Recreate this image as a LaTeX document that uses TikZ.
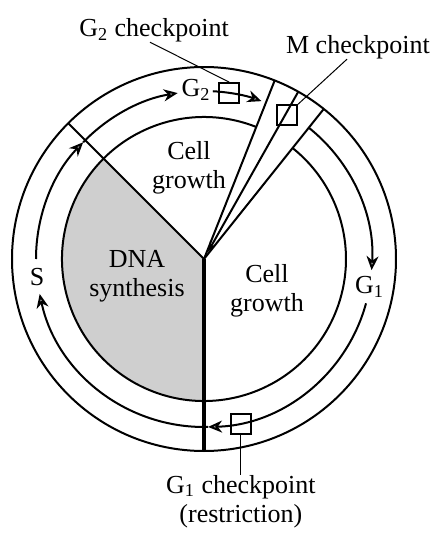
\documentclass[tikz,border=0pt]{standalone}
\usepackage{fontspec}
\setmainfont{Liberation Serif}
\usetikzlibrary{arrows.meta}
\usetikzlibrary{positioning}

\begin{document}
\begin{tikzpicture}[x=0.5pt,y=0.5pt,
  lbl/.style={font=\fontsize{13}{14.5}\selectfont,text=black,align=center,inner sep=0pt},
  chkbox/.style={rectangle,draw=black,line width=0.8pt,minimum size=10pt,inner sep=0pt},
  tip/.style={-{Stealth[length=7pt,width=6pt,inset=2.2pt,fill=gray!60]}},
  ringline/.style={black,line width=1pt},
  pointer/.style={black,line width=0.5pt}]
\useasboundingbox (-204,-278) rectangle (234,259);

% DNA synthesis sector
\fill[gray!38] (0,0) -- (135:142) arc[start angle=135,end angle=270,radius=142] -- cycle;

% outer circle and cell circle
\draw[ringline] (0,0) circle[radius=192];
\draw[ringline] (68.4:142) arc[start angle=68.4,end angle=411.4,radius=142];

% radial lines
\draw[ringline] (0,0) -- (135:192);
\draw[black,line width=1.6pt] (0,0) -- (270:192);
\draw[ringline] (0,0) -- (68.4:192);
\draw[ringline] (0,0) -- (51.4:192);
\draw[ringline,-{Stealth[length=5pt,width=3.5pt,fill=gray!60]}] (60.6:192) -- (60.6:8);

% phase arrows
\draw[ringline,tip] (51.4:168) arc[start angle=51.4,end angle=-3.8,radius=168];
\draw[ringline,tip] (-15.3:168) arc[start angle=-15.3,end angle=-88.6,radius=168];
\draw[ringline,tip] (-88.6:168) arc[start angle=-88.6,end angle=-168,radius=168];
\draw[ringline,tip] (180:168) arc[start angle=180,end angle=136,radius=168];
\draw[ringline,tip] (136:168) arc[start angle=136,end angle=99,radius=168];
\draw[ringline,tip] (87:168) arc[start angle=87,end angle=70,radius=168];

% phase names
\node[lbl] (g1) at (-9.6:168) {G\textsubscript{1}};
\node[lbl] (s) at (186.2:168) {S};
\node[lbl] (g2) at (92.7:169) {G\textsubscript{2}};

% regions
\node[lbl] (topgrowth) at (-15,91) {Cell\\growth};
\node[lbl] (dnasyn) at (-67,-17) {DNA\\synthesis};
\node[lbl] (rightgrowth) at (63,-32) {Cell\\growth};

% checkpoints
\node[chkbox] (g2box) at (81.4:168) {};
\node[chkbox] (mbox) at (60:166) {};
\node[chkbox] (g1box) at (-77.4:169) {};

\node[lbl] (g2lab) at (-50,229) {G\textsubscript{2} checkpoint};
\node[lbl] (mlab) at (154,212) {M checkpoint};
\node[lbl,below=20pt of g1box] (g1lab) {G\textsubscript{1} checkpoint\\(restriction)};

\draw[pointer] ([xshift=-2pt]g2lab.south) -- (g2box.north);
\draw[pointer] ([xshift=-5.5pt]mlab.south) -- (mbox.north east);
\draw[pointer] (g1box.south) -- (g1lab.north);

\end{tikzpicture}
\end{document}
